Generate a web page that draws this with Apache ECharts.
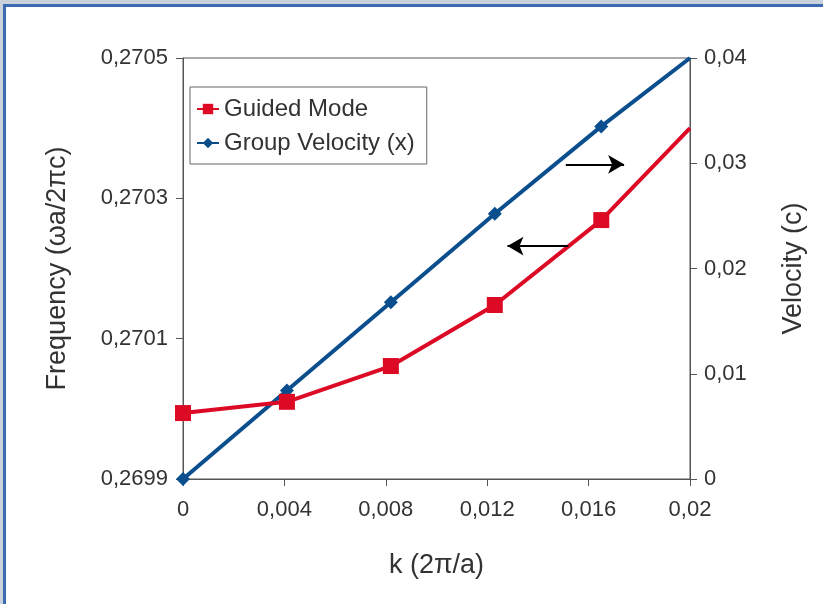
<!DOCTYPE html>
<html>
<head>
<meta charset="utf-8">
<script src="https://cdn.jsdelivr.net/npm/echarts@6/dist/echarts.min.js"></script>
<style>
  html, body { margin: 0; padding: 0; background: #fff; }
  #chart { position: absolute; left: 0; top: 0; width: 823px; height: 604px; }
  .edge { position: absolute; pointer-events: none; }
</style>
</head>
<body>
<div id="chart"></div>
<!-- frame around the picture -->
<div class="edge" style="left:0;top:0;width:823px;height:4px;background:#c9d1dc"></div>
<div class="edge" style="left:0;top:0;width:3px;height:604px;background:#c9d1dc"></div>
<div class="edge" style="left:3px;top:4px;width:820px;height:3px;background:#3c6bb1"></div>
<div class="edge" style="left:3px;top:4px;width:3px;height:600px;background:#3c6bb1"></div>
<script>
var kValues = [0, 0.0041, 0.0082, 0.0123, 0.0165, 0.02];          // k (2π/a)
var guidedMode = [0.269994, 0.27001, 0.270061, 0.270148, 0.270269, 0.2704]; // 频率
var groupVelocity = [0, 0.0084, 0.0168, 0.0252, 0.0335, 0.04];     // 群速度 (c)
var arrowRight = [[0.0151, 0.0299], [0.0174, 0.0299]];  // 指向右轴
var arrowLeft = [[0.0152, 0.270232], [0.0128, 0.270232]]; // 指向左轴

var FONT = 'Liberation Sans';
var myChart = echarts.init(document.getElementById('chart'));

function comma(v) {
    if (v === 0) return '0';
    return String(parseFloat(v.toFixed(4))).replace('.', ',');
}
function pairs(ys, lastPlain) {
    return kValues.map(function (k, i) {
        var item = { value: [k, ys[i]] };
        if (lastPlain && i === kValues.length - 1) item.symbol = 'none';
        return item;
    });
}

var option = {
    animation: false,
    textStyle: { fontFamily: FONT },
    grid: {
        left: 183, right: 133, top: 58, bottom: 125,
        show: true, borderColor: '#555', borderWidth: 1
    },
    legend: {
        left: 190, top: 87,
        orient: 'vertical',
        data: ['Guided Mode', 'Group Velocity (x)'],
        backgroundColor: '#fff',
        borderColor: '#666', borderWidth: 1,
        padding: [10, 12, 9, 6],
        itemGap: 10,
        itemWidth: 22, itemHeight: 13,
        textStyle: { fontFamily: FONT, fontSize: 24, color: '#333' }
    },
    xAxis: {
        type: 'value',
        min: 0, max: 0.02, interval: 0.004,
        name: 'k (2π/a)',
        nameLocation: 'middle',
        nameGap: 73,
        nameTextStyle: { fontFamily: FONT, fontSize: 27, color: '#333' },
        axisLine: { lineStyle: { color: '#555' } },
        axisTick: { show: true, length: 7, lineStyle: { color: '#555' } },
        axisLabel: { formatter: comma, fontSize: 22, color: '#333', margin: 20 },
        splitLine: { show: false }
    },
    yAxis: [
        {
            type: 'value',
            min: 0.2699, max: 0.2705, interval: 0.0002,
            name: 'Frequency (ωa/2πc)',
            nameLocation: 'middle',
            nameGap: 112,
            nameRotate: 90,
            nameTextStyle: { fontFamily: FONT, fontSize: 27, color: '#333' },
            axisLine: { show: true, lineStyle: { color: '#555' } },
            axisTick: { show: true, length: 7, lineStyle: { color: '#555' } },
            axisLabel: { formatter: comma, fontSize: 22, color: '#333', margin: 15 },
            splitLine: { show: false }
        },
        {
            type: 'value',
            min: 0, max: 0.04, interval: 0.01,
            position: 'right',
            name: 'Velocity (c)',
            nameLocation: 'middle',
            nameGap: 90,
            nameRotate: 90,
            nameTextStyle: { fontFamily: FONT, fontSize: 27, color: '#333' },
            axisLine: { show: true, lineStyle: { color: '#555' } },
            axisTick: { show: true, length: 7, lineStyle: { color: '#555' } },
            axisLabel: { formatter: comma, fontSize: 22, color: '#333', margin: 14 },
            splitLine: { show: false }
        }
    ],
    series: [
        {
            name: 'Group Velocity (x)',
            type: 'line',
            yAxisIndex: 1,
            data: pairs(groupVelocity, true),
            color: '#0b4e8e',
            lineStyle: { width: 4 },
            symbol: 'diamond',
            symbolSize: 14,
            markLine: {
                silent: true,
                symbol: ['none', 'arrow'],
                symbolSize: [14, 16],
                label: { show: false },
                lineStyle: { color: '#000', width: 2, type: 'solid' },
                data: [[{ coord: arrowRight[0] }, { coord: arrowRight[1] }]]
            }
        },
        {
            name: 'Guided Mode',
            type: 'line',
            yAxisIndex: 0,
            data: pairs(guidedMode, true),
            color: '#dd0a25',
            lineStyle: { width: 4 },
            symbol: 'rect',
            symbolSize: 16,
            markLine: {
                silent: true,
                symbol: ['none', 'arrow'],
                symbolSize: [14, 16],
                label: { show: false },
                lineStyle: { color: '#000', width: 2, type: 'solid' },
                data: [[{ coord: arrowLeft[0] }, { coord: arrowLeft[1] }]]
            }
        }
    ]
};
myChart.setOption(option);
</script>
</body>
</html>
